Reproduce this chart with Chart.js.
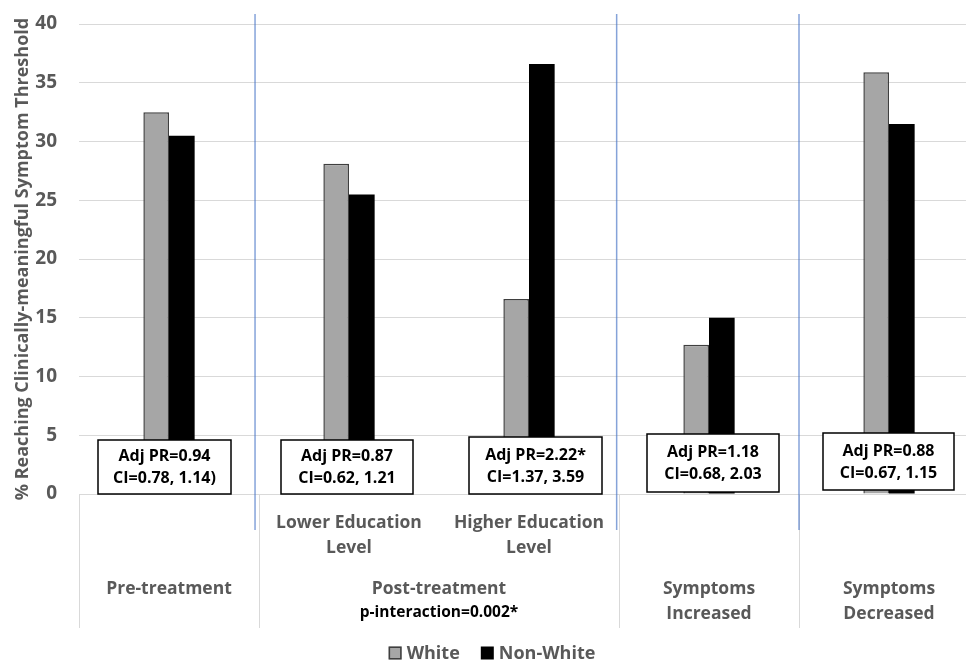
<!DOCTYPE html>
<html>
<head>
<meta charset="utf-8">
<title>Clinically-meaningful symptom threshold</title>
<script src="https://cdn.jsdelivr.net/npm/chart.js@4"></script>
<style>
  html, body { margin: 0; padding: 0; background: #fff; overflow: hidden; }
  #wrap { width: 990px; height: 660px; }
</style>
</head>
<body>
<div id="wrap"><canvas id="chart" width="990" height="660"></canvas></div>
<script>
  // Chart data
  const categories = ['Pre-treatment', 'Lower Education Level', 'Higher Education Level', 'Symptoms Increased', 'Symptoms Decreased'];
  const whiteValues = [32.5, 28.1, 16.6, 12.7, 35.9];
  const nonWhiteValues = [30.5, 25.5, 36.6, 15.0, 31.5];
  const seriesNames = ['White', 'Non-White'];

  // First level labels under the axis
  const subLabels = [[], ['Lower Education', 'Level'], ['Higher Education', 'Level'], [], []];
  // Second level labels and the categories they span
  const groupLabels = [['Pre-treatment'], ['Post-treatment'], ['Symptoms', 'Increased'], ['Symptoms', 'Decreased']];
  const groupSpans = [[0, 0], [1, 2], [3, 3], [4, 4]];
  const groupNotes = ['', 'p-interaction=0.002*', '', ''];

  // Prevalence ratio boxes
  const prLabels = ['Adj PR=0.94', 'Adj PR=0.87', 'Adj PR=2.22*', 'Adj PR=1.18', 'Adj PR=0.88'];
  const ciLabels = ['CI=0.78, 1.14)', 'CI=0.62, 1.21', 'CI=1.37, 3.59', 'CI=0.68, 2.03', 'CI=0.67, 1.15'];

  const FONT = '"Open Sans", Lato, sans-serif';
  const GREY_TEXT = '#595959';

  // Draws the annotation boxes, separators, multi-level labels and legend
  const overlay = {
    id: 'overlay',
    afterDatasetsDraw(chart) {
      const ctx = chart.ctx;
      const x = chart.scales.x;
      const y = chart.scales.y;
      const y0 = y.getPixelForValue(0);

      ctx.save();

      // category boundaries under the axis
      ctx.strokeStyle = '#d9d9d9';
      ctx.lineWidth = 1;
      [-0.5, 0.5, 2.5, 3.5, 4.5].forEach(v => {
        const px = Math.round(x.getPixelForValue(v)) + 0.5;
        ctx.beginPath();
        ctx.moveTo(px, y0);
        ctx.lineTo(px, y0 + 134);
        ctx.stroke();
      });

      // blue separators between the panels
      ctx.strokeStyle = 'rgba(68, 114, 196, 0.65)';
      ctx.lineWidth = 1.5;
      [0.478, 2.487, 3.5].forEach(v => {
        const px = x.getPixelForValue(v);
        ctx.beginPath();
        ctx.moveTo(px, 14);
        ctx.lineTo(px, y0 + 36);
        ctx.stroke();
      });

      // PR / CI boxes
      const boxes = [
        { dx: -4.5, w: 133, top: -54, bot: 0 },
        { dx: -2, w: 132, top: -54, bot: 0 },
        { dx: 6.5, w: 133, top: -57, bot: 0 },
        { dx: 4, w: 132, top: -60, bot: -2 },
        { dx: -0.5, w: 131, top: -61, bot: -4 }
      ];
      ctx.font = 'bold 16px ' + FONT;
      ctx.textAlign = 'center';
      ctx.textBaseline = 'middle';
      boxes.forEach((b, i) => {
        const cx = x.getPixelForValue(i) + b.dx;
        const top = y0 + b.top;
        const h = b.bot - b.top;
        ctx.fillStyle = '#ffffff';
        ctx.fillRect(cx - b.w / 2, top, b.w, h);
        ctx.strokeStyle = '#000000';
        ctx.lineWidth = 1.5;
        ctx.strokeRect(cx - b.w / 2, top, b.w, h);
        const mid = top + h / 2;
        ctx.fillStyle = '#000000';
        ctx.fillText(prLabels[i], cx, mid - 10.5);
        ctx.fillText(ciLabels[i], cx, mid + 11.5);
      });

      // first level labels
      ctx.font = 'bold 17.5px ' + FONT;
      ctx.fillStyle = GREY_TEXT;
      subLabels.forEach((lines, i) => {
        const cx = x.getPixelForValue(i);
        lines.forEach((t, k) => ctx.fillText(t, cx, y0 + 29 + k * 25));
      });

      // second level labels
      groupLabels.forEach((lines, g) => {
        const span = groupSpans[g];
        const cx = (x.getPixelForValue(span[0]) + x.getPixelForValue(span[1])) / 2;
        ctx.font = 'bold 17.5px ' + FONT;
        ctx.fillStyle = GREY_TEXT;
        lines.forEach((t, k) => ctx.fillText(t, cx, y0 + 95 + k * 25));
        if (groupNotes[g]) {
          ctx.font = 'bold 15.5px ' + FONT;
          ctx.fillStyle = '#000000';
          ctx.fillText(groupNotes[g], cx, y0 + 119);
        }
      });

      // legend
      ctx.font = 'bold 18px ' + FONT;
      ctx.textAlign = 'left';
      const ly = 653;
      const items = chart.data.datasets.map(ds => ({
        text: ds.label,
        fill: ds.backgroundColor,
        stroke: ds.borderWidth ? ds.borderColor : null
      }));
      const gap = 21, box = 13, textGap = 5;
      let total = 0;
      items.forEach((it, i) => {
        it.w = box + textGap + ctx.measureText(it.text).width;
        total += it.w + (i ? gap : 0);
      });
      let lx = 492 - total / 2;
      items.forEach(it => {
        ctx.fillStyle = it.fill;
        ctx.fillRect(lx, ly - box / 2, box, box);
        if (it.stroke) {
          ctx.strokeStyle = it.stroke;
          ctx.lineWidth = 1.5;
          ctx.strokeRect(lx + 0.75, ly - box / 2 + 0.75, box - 1.5, box - 1.5);
        }
        ctx.fillStyle = GREY_TEXT;
        ctx.fillText(it.text, lx + box + textGap, ly + 1);
        lx += it.w + gap;
      });

      ctx.restore();
    }
  };

  new Chart(document.getElementById('chart'), {
    type: 'bar',
    data: {
      labels: categories,
      datasets: [
        {
          label: seriesNames[0],
          data: whiteValues,
          backgroundColor: '#a6a6a6',
          borderColor: '#3f3f3f',
          borderWidth: 1.5
        },
        {
          label: seriesNames[1],
          data: nonWhiteValues,
          backgroundColor: '#000000',
          borderWidth: 0
        }
      ]
    },
    options: {
      responsive: false,
      animation: false,
      devicePixelRatio: 1,
      layout: { padding: { top: 24, right: 11, left: 0, bottom: 0 } },
      categoryPercentage: 0.285,
      barPercentage: 1.0,
      scales: {
        x: {
          grid: { display: false },
          border: { display: false },
          ticks: { display: false },
          afterFit: scale => { scale.height = 166; }
        },
        y: {
          min: 0,
          max: 40,
          ticks: {
            stepSize: 5,
            padding: 22,
            color: GREY_TEXT,
            font: { family: FONT, size: 19, weight: 'bold' }
          },
          grid: { color: '#d9d9d9', lineWidth: 1, drawTicks: false },
          border: { display: false },
          title: {
            display: true,
            text: '% Reaching Clinically-meaningful Symptom Threshold',
            color: GREY_TEXT,
            font: { family: FONT, size: 18, weight: 'bold' },
            padding: { top: 12, bottom: 0 }
          },
          afterFit: scale => {
            scale.width = 79;
            // let the layout padding alone decide the top of the plot
            scale.paddingTop = 0;
            scale.paddingBottom = 0;
          }
        }
      },
      plugins: {
        legend: { display: false },
        tooltip: { enabled: false }
      }
    },
    plugins: [overlay]
  });
</script>
</body>
</html>
